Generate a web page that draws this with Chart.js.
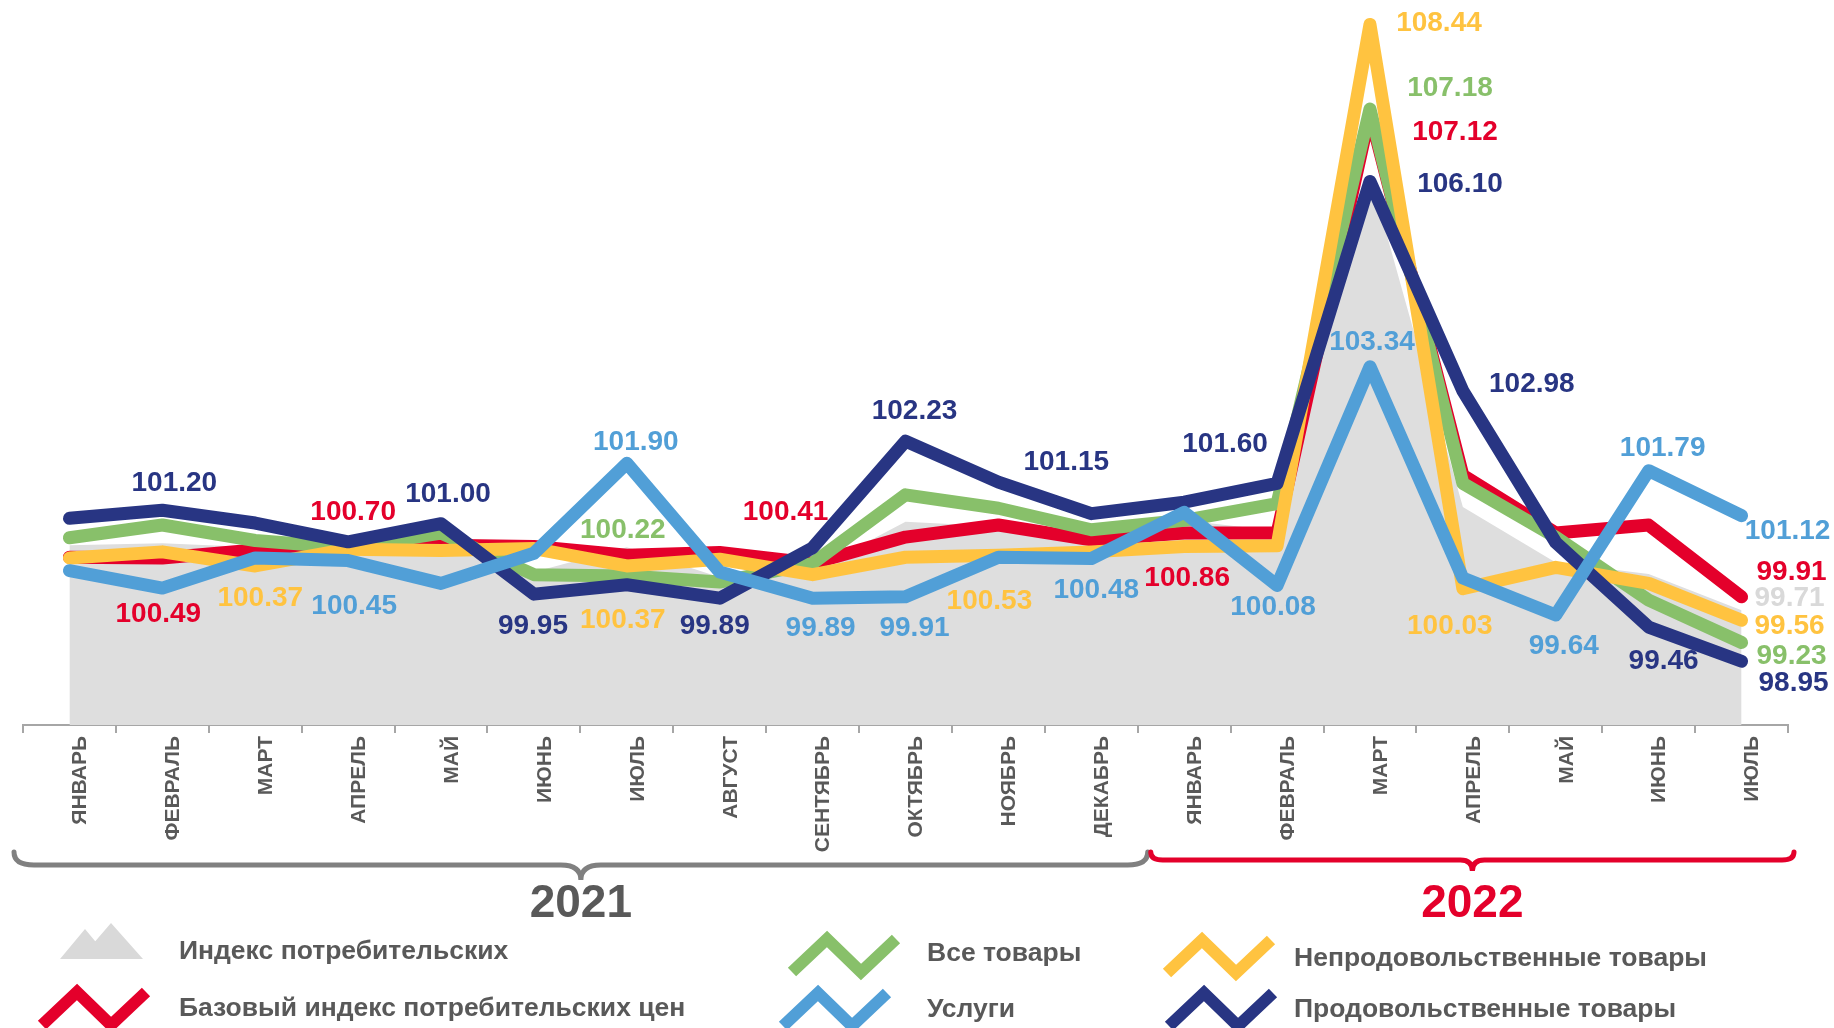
<!DOCTYPE html>
<html>
<head>
<meta charset="utf-8">
<script src="https://cdn.jsdelivr.net/npm/chart.js@4.4.1/dist/chart.umd.min.js"></script>
<style>
  html, body { margin: 0; padding: 0; background: #fff; }
  #wrap { width: 1834px; height: 1028px; }
</style>
</head>
<body>
<div id="wrap"><canvas id="cpiChart" width="1834" height="1028"></canvas></div>
<script>
// месяцы 2021 (12) и 2022 (7)
const months = ['ЯНВАРЬ', 'ФЕВРАЛЬ', 'МАРТ', 'АПРЕЛЬ', 'МАЙ', 'ИЮНЬ', 'ИЮЛЬ', 'АВГУСТ', 'СЕНТЯБРЬ', 'ОКТЯБРЬ', 'НОЯБРЬ', 'ДЕКАБРЬ',
                'ЯНВАРЬ', 'ФЕВРАЛЬ', 'МАРТ', 'АПРЕЛЬ', 'МАЙ', 'ИЮНЬ', 'ИЮЛЬ'];
const years = ['2021', '2022'];
const monthsInYear = [12, 7];

const cpi      = [100.68, 100.71, 100.65, 100.62, 100.63, 100.28, 100.65, 100.20, 100.30, 101.03, 100.96, 100.79, 101.05, 100.89, 106.20, 101.25, 100.42, 100.25, 99.71];
const coreCpi  = [100.50, 100.49, 100.61, 100.70, 100.68, 100.66, 100.53, 100.57, 100.41, 100.80, 100.98, 100.76, 100.86, 100.86, 107.12, 101.72, 100.86, 100.98, 99.91];
const allGoods = [100.79, 100.98, 100.75, 100.64, 100.86, 100.24, 100.22, 100.13, 100.41, 101.43, 101.23, 100.91, 101.05, 101.30, 107.18, 101.60, 100.80, 99.86, 99.23];
const services = [100.30, 100.04, 100.49, 100.45, 100.11, 100.56, 101.90, 100.28, 99.89, 99.91, 100.50, 100.48, 101.17, 100.08, 103.34, 100.19, 99.64, 101.79, 101.12];
const nonFood  = [100.49, 100.58, 100.37, 100.62, 100.60, 100.63, 100.37, 100.47, 100.24, 100.50, 100.53, 100.58, 100.66, 100.67, 108.44, 100.03, 100.35, 100.11, 99.56];
const food     = [101.08, 101.20, 101.01, 100.73, 101.00, 99.95, 100.09, 99.89, 100.64, 102.23, 101.62, 101.15, 101.32, 101.60, 106.10, 102.98, 100.72, 99.46, 98.95];

const FONT = '"Liberation Sans", Arial, sans-serif';
const GRAY_TEXT = '#595959';
const COLORS = {
  cpi: '#DEDEDE', cpiText: '#D9D9D9',
  core: '#E4002B', goods: '#88C06A', services: '#519FD7', nonFood: '#FFC340', food: '#283583'
};

// подписи значений: [индекс набора, индекс месяца, dx, dy]
const valueLabels = [
  [5, 1, 12, -27], [5, 4, 7, -29], [5, 5, -1, 32], [5, 7, -5, 28], [5, 9, 9, -30], [5, 11, -25, -51],
  [5, 13, -52, -39], [5, 14, 90, 3], [5, 15, 69, -7], [5, 17, 15, 34], [5, 18, 52, 22],
  [1, 1, -4, 56], [1, 3, 5, -32], [1, 8, -27, -51], [1, 12, 3, 45], [1, 14, 85, 19], [1, 18, 50, -25],
  [4, 2, 5, 32], [4, 6, -4, 54], [4, 10, -9, 46], [4, 14, 69, -1], [4, 15, -13, 37], [4, 18, 48, 6],
  [3, 3, 6, 46], [3, 6, 9, -21], [3, 8, 8, 30], [3, 9, 9, 31], [3, 11, 5, 32], [3, 13, -4, 22],
  [3, 14, 2, -24], [3, 16, 8, 31], [3, 17, 14, -22], [3, 18, 46, 16],
  [2, 6, -4, -46], [2, 14, 80, -21], [2, 18, 50, 14],
  [0, 18, 48, -12]
];

function lineSet(label, data, color, order) {
  return {
    label: label, data: data, borderColor: color, backgroundColor: color,
    borderWidth: 13, pointRadius: 0, fill: false, tension: 0,
    borderCapStyle: 'round', borderJoinStyle: 'round', order: order, clip: false
  };
}

function drawBrace(ctx, x1, x2, y, endH, tipH, r) {
  const xm = (x1 + x2) / 2;
  ctx.beginPath();
  ctx.moveTo(x1, y - endH);
  ctx.quadraticCurveTo(x1, y, x1 + r, y);
  ctx.lineTo(xm - r, y);
  ctx.quadraticCurveTo(xm, y, xm, y + tipH);
  ctx.quadraticCurveTo(xm, y, xm + r, y);
  ctx.lineTo(x2 - r, y);
  ctx.quadraticCurveTo(x2, y, x2, y - endH);
  ctx.stroke();
  return xm;
}

function drawZigzag(ctx, x, yTop, color) {
  ctx.save();
  ctx.strokeStyle = color;
  ctx.lineWidth = 12;
  ctx.lineJoin = 'miter';
  ctx.lineCap = 'butt';
  ctx.beginPath();
  ctx.moveTo(x + 4, yTop + 40);
  ctx.lineTo(x + 39, yTop + 7);
  ctx.lineTo(x + 73, yTop + 40);
  ctx.lineTo(x + 108, yTop + 7);
  ctx.stroke();
  ctx.restore();
}

function drawMountains(ctx, color) {
  ctx.save();
  ctx.fillStyle = color;
  ctx.beginPath();
  ctx.moveTo(60, 959); ctx.lineTo(85, 929); ctx.lineTo(110, 959); ctx.closePath();
  ctx.moveTo(80, 959); ctx.lineTo(111, 923); ctx.lineTo(143, 959); ctx.closePath();
  ctx.fill();
  ctx.restore();
}

const decorPlugin = {
  id: 'decor',
  afterDatasetsDraw(chart) {
    const ctx = chart.ctx;
    ctx.save();
    ctx.font = 'bold 28px ' + FONT;
    ctx.textAlign = 'center';
    ctx.textBaseline = 'middle';
    valueLabels.forEach(([ds, i, dx, dy]) => {
      const set = chart.data.datasets[ds];
      const pt = chart.getDatasetMeta(ds).data[i];
      ctx.fillStyle = ds === 0 ? COLORS.cpiText : set.borderColor;
      ctx.fillText(set.data[i].toFixed(2), pt.x + dx, pt.y + dy);
    });
    ctx.restore();
  },
  afterDraw(chart) {
    const ctx = chart.ctx;
    const xs = chart.scales.x;
    const split = (xs.getPixelForValue(monthsInYear[0] - 1) + xs.getPixelForValue(monthsInYear[0])) / 2;

    ctx.save();
    ctx.lineWidth = 5;
    ctx.lineCap = 'round';
    ctx.strokeStyle = '#808080';
    const mid1 = drawBrace(ctx, xs.left - 9, split + 10, 865, 13, 15, 20);
    ctx.strokeStyle = COLORS.core;
    const mid2 = drawBrace(ctx, split + 13, xs.right + 6, 860, 8, 11, 12);

    ctx.font = 'bold 46px ' + FONT;
    ctx.textAlign = 'center';
    ctx.textBaseline = 'middle';
    ctx.fillStyle = GRAY_TEXT;
    ctx.fillText(years[0], mid1, 904);
    ctx.fillStyle = COLORS.core;
    ctx.fillText(years[1], mid2, 904);

    // легенда
    const ds = chart.data.datasets;
    drawMountains(ctx, COLORS.cpiText);
    drawZigzag(ctx, 38, 985, ds[1].borderColor);
    drawZigzag(ctx, 788, 932, ds[2].borderColor);
    drawZigzag(ctx, 779, 986, ds[3].borderColor);
    drawZigzag(ctx, 1163, 933, ds[4].borderColor);
    drawZigzag(ctx, 1165, 986, ds[5].borderColor);

    ctx.font = 'bold 26.5px ' + FONT;
    ctx.textAlign = 'left';
    ctx.fillStyle = GRAY_TEXT;
    ctx.fillText(ds[0].label, 179, 952);
    ctx.fillText(ds[1].label, 179, 1009);
    ctx.fillText(ds[2].label, 927, 954);
    ctx.fillText(ds[3].label, 927, 1010);
    ctx.fillText(ds[4].label, 1294, 959);
    ctx.fillText(ds[5].label, 1294, 1010);
    ctx.restore();
  }
};

const chart = new Chart(document.getElementById('cpiChart'), {
  type: 'line',
  data: {
    labels: months,
    datasets: [
      {
        label: 'Индекс потребительских', data: cpi, borderWidth: 0, pointRadius: 0,
        backgroundColor: COLORS.cpi, borderColor: COLORS.cpi, fill: 'start', tension: 0, order: 6
      },
      lineSet('Базовый индекс потребительских цен', coreCpi, COLORS.core, 5),
      lineSet('Все товары', allGoods, COLORS.goods, 4),
      lineSet('Услуги', services, COLORS.services, 1),
      lineSet('Непродовольственные товары', nonFood, COLORS.nonFood, 3),
      lineSet('Продовольственные товары', food, COLORS.food, 2)
    ]
  },
  options: {
    responsive: false,
    animation: false,
    layout: { padding: { left: 23, right: 46, top: 7, bottom: 0 } },
    plugins: { legend: { display: false }, tooltip: { enabled: false } },
    scales: {
      x: {
        offset: true,
        grid: { offset: true, drawOnChartArea: false, drawTicks: true, tickLength: 8, color: '#A6A6A6', lineWidth: 2 },
        border: { display: true, color: '#A6A6A6', width: 2 },
        ticks: {
          autoSkip: false, maxRotation: 90, minRotation: 90, padding: 3, labelOffset: 11,
          color: GRAY_TEXT, font: { family: FONT, size: 21, weight: 'bold' }
        },
        afterFit: (axis) => { axis.height = 303; }
      },
      y: { display: false, min: 98, max: 108.7 }
    }
  },
  plugins: [decorPlugin]
});
</script>
</body>
</html>
